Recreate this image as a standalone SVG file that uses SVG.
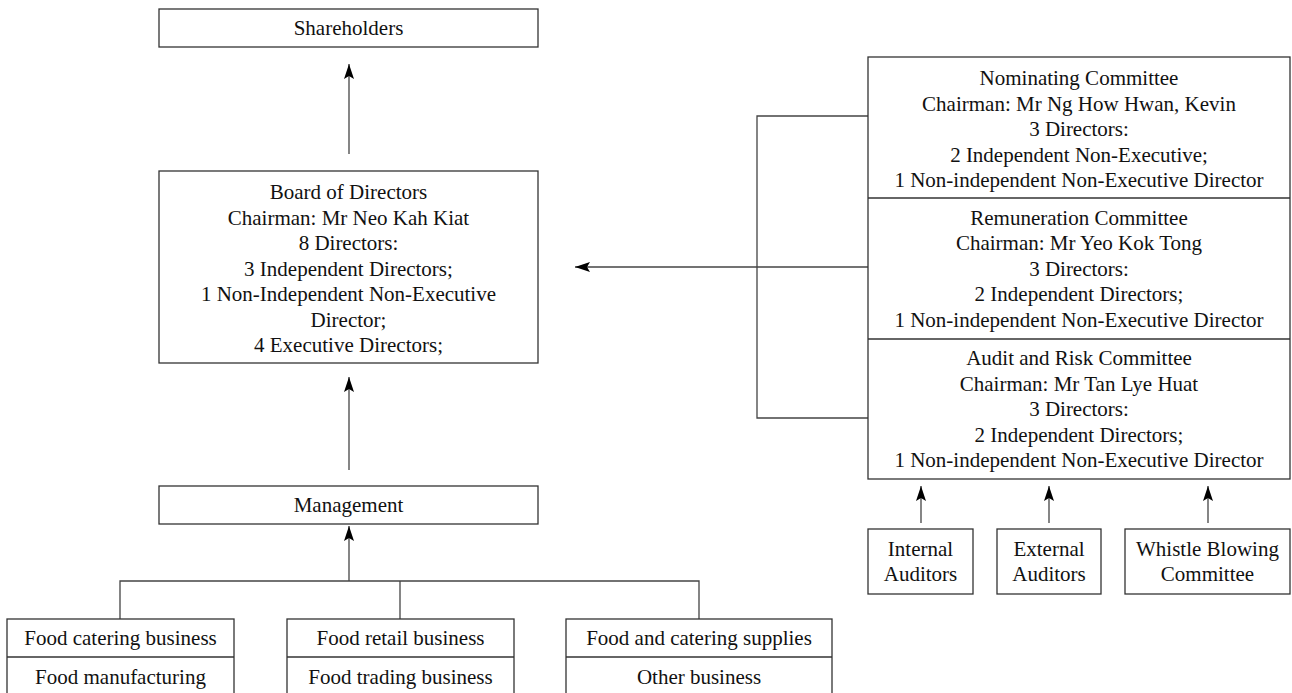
<svg xmlns="http://www.w3.org/2000/svg" width="1292" height="693" viewBox="0 0 1292 693">
<style>
.box{fill:#fff;stroke:#333;stroke-width:1.3}
.div{stroke:#333;stroke-width:1.3;fill:none}
.ln{stroke:#444;stroke-width:1.3;fill:none}
text{font-family:"Liberation Serif","Times New Roman",serif;font-size:21px;fill:#111;text-anchor:middle}
</style>
<defs>
<marker id="ah" markerUnits="userSpaceOnUse" markerWidth="16" markerHeight="12" refX="15" refY="5.5" orient="auto">
<path d="M0,0.5 L15,5.5 L0,10.5 L3,5.5 Z" fill="#000"/>
</marker>
</defs>
<rect width="1292" height="693" fill="#fff"/>
<g id="connectors">
<line class="ln" x1="349" y1="154" x2="349" y2="64" marker-end="url(#ah)"/>
<line class="ln" x1="349" y1="470" x2="349" y2="377" marker-end="url(#ah)"/>
<polyline class="ln" points="120,619 120,581 699,581 699,619"/>
<line class="ln" x1="400" y1="581" x2="400" y2="619"/>
<line class="ln" x1="349" y1="581" x2="349" y2="526" marker-end="url(#ah)"/>
<polyline class="ln" points="868,116 757,116 757,418 868,418"/>
<line class="ln" x1="868" y1="267" x2="575" y2="267" marker-end="url(#ah)"/>
<line class="ln" x1="921" y1="523" x2="921" y2="486" marker-end="url(#ah)"/>
<line class="ln" x1="1049" y1="523" x2="1049" y2="486" marker-end="url(#ah)"/>
<line class="ln" x1="1208" y1="523" x2="1208" y2="486" marker-end="url(#ah)"/>
</g>
<g id="shareholders">
<rect class="box" x="159" y="9" width="379" height="38"/>
<text x="348.5" y="35">Shareholders</text>
</g>
<g id="board">
<rect class="box" x="159" y="171" width="379" height="192"/>
<text x="348.5" y="199">Board of Directors</text>
<text x="348.5" y="224.5">Chairman: Mr Neo Kah Kiat</text>
<text x="348.5" y="250">8 Directors:</text>
<text x="348.5" y="275.5">3 Independent Directors;</text>
<text x="348.5" y="301">1 Non-Independent Non-Executive</text>
<text x="348.5" y="326.5">Director;</text>
<text x="348.5" y="352">4 Executive Directors;</text>
</g>
<g id="management">
<rect class="box" x="159" y="486" width="379" height="38"/>
<text x="348.5" y="512">Management</text>
</g>
<g id="committees">
<rect class="box" x="868" y="57" width="422" height="422"/>
<line class="div" x1="868" y1="198" x2="1290" y2="198"/>
<line class="div" x1="868" y1="339" x2="1290" y2="339"/>
<g id="nominating">
<text x="1079" y="85">Nominating Committee</text>
<text x="1079" y="110.5">Chairman: Mr Ng How Hwan, Kevin</text>
<text x="1079" y="136">3 Directors:</text>
<text x="1079" y="161.5">2 Independent Non-Executive;</text>
<text x="1079" y="187">1 Non-independent Non-Executive Director</text>
</g>
<g id="remuneration">
<text x="1079" y="224.5">Remuneration Committee</text>
<text x="1079" y="250">Chairman: Mr Yeo Kok Tong</text>
<text x="1079" y="275.5">3 Directors:</text>
<text x="1079" y="301">2 Independent Directors;</text>
<text x="1079" y="326.5">1 Non-independent Non-Executive Director</text>
</g>
<g id="audit">
<text x="1079" y="365">Audit and Risk Committee</text>
<text x="1079" y="390.5">Chairman: Mr Tan Lye Huat</text>
<text x="1079" y="416">3 Directors:</text>
<text x="1079" y="441.5">2 Independent Directors;</text>
<text x="1079" y="467">1 Non-independent Non-Executive Director</text>
</g>
</g>
<g id="internal-auditors">
<rect class="box" x="868" y="529" width="105" height="65"/>
<text x="920.5" y="556">Internal</text>
<text x="920.5" y="581">Auditors</text>
</g>
<g id="external-auditors">
<rect class="box" x="997" y="529" width="104" height="65"/>
<text x="1049" y="556">External</text>
<text x="1049" y="581">Auditors</text>
</g>
<g id="whistle-blowing">
<rect class="box" x="1125" y="529" width="165" height="65"/>
<text x="1207.5" y="556">Whistle Blowing</text>
<text x="1207.5" y="581">Committee</text>
</g>
<g id="business-1">
<rect class="box" x="7" y="619" width="227" height="80"/>
<line class="div" x1="7" y1="657" x2="234" y2="657"/>
<text x="120.5" y="645">Food catering business</text>
<text x="120.5" y="684">Food manufacturing</text>
</g>
<g id="business-2">
<rect class="box" x="287" y="619" width="227" height="80"/>
<line class="div" x1="287" y1="657" x2="514" y2="657"/>
<text x="400.5" y="645">Food retail business</text>
<text x="400.5" y="684">Food trading business</text>
</g>
<g id="business-3">
<rect class="box" x="566" y="619" width="266" height="80"/>
<line class="div" x1="566" y1="657" x2="832" y2="657"/>
<text x="699" y="645">Food and catering supplies</text>
<text x="699" y="684">Other business</text>
</g>
</svg>
